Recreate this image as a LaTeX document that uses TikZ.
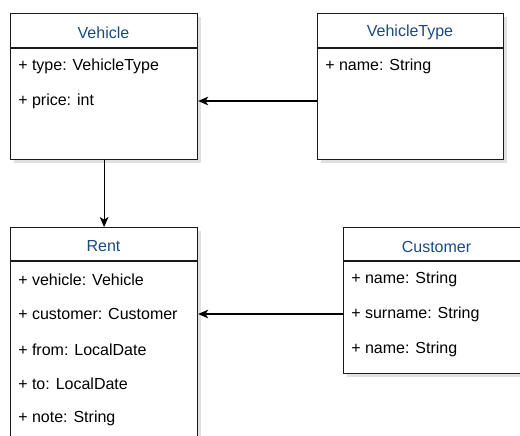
\documentclass[tikz,border=0pt]{standalone}
\usepackage{fontspec}
\setmainfont{Liberation Sans}
\usetikzlibrary{shadows,arrows.meta}
\definecolor{titleblue}{HTML}{184A85}
\definecolor{edge}{HTML}{1A1A1A}
\tikzset{
  umlbox/.style={draw=edge, line width=0.9pt, fill=white, anchor=north west, inner sep=0pt,
    drop shadow={shadow xshift=2.25pt, shadow yshift=-2.25pt, fill=black!12, opacity=1}},
  umltitle/.style={text=titleblue, inner sep=0pt, font=\fontsize{12pt}{14pt}\selectfont},
  attr/.style={anchor=west, inner sep=0pt, font=\fontsize{12pt}{14pt}\selectfont, text=black},
  divider/.style={draw=edge, line width=0.9pt},
  arr/.style={draw=black, line width=0.9pt, -{Stealth[length=7.5pt,width=6.5pt,inset=2pt]}},
}
\begin{document}
\begin{tikzpicture}[x=0.75pt,y=-0.75pt]
\clip (0,0) rectangle (520,435);
\fill[white] (0,0) rectangle (520,435);
% Vehicle
\node[umlbox, minimum width=140.25pt, minimum height=109.5pt] (vehicle) at (10,13) {};
\draw[divider] (10,48) -- (197,48);
\node[umltitle] (vehicletitle) at (103.5,32.5) {Vehicle};
\node[attr] (vtype) at (18,66.5) {+ type: VehicleType};
\node[attr] (vprice) at (18,101) {+ price: int};
% VehicleType
\node[umlbox, minimum width=139.5pt, minimum height=109.5pt] (vt) at (317,13) {};
\draw[divider] (317,48) -- (503,48);
\node[umltitle] (vttitle) at (410,32.5) {VehicleType};
\node[attr] (vtname) at (325,66.5) {+ name: String};
% Rent
\node[umlbox, minimum width=140.25pt, minimum height=182.25pt] (rent) at (10,227) {};
\draw[divider] (10,261) -- (197,261);
\node[umltitle] (renttitle) at (103.5,246.5) {Rent};
\node[attr] (rvehicle) at (18,279.5) {+ vehicle: Vehicle};
\node[attr] (rcustomer) at (18,314) {+ customer: Customer};
\node[attr] (rfrom) at (18,349.5) {+ from: LocalDate};
\node[attr] (rto) at (18,383.5) {+ to: LocalDate};
\node[attr] (rnote) at (18,418.5) {+ note: String};
% Customer
\node[umlbox, minimum width=140.25pt, minimum height=109.5pt] (cust) at (343,227) {};
\draw[divider] (343,261) -- (530,261);
\node[umltitle] (custtitle) at (436.5,246.5) {Customer};
\node[attr] (cname) at (351,279.5) {+ name: String};
\node[attr] (csurname) at (351,314) {+ surname: String};
\node[attr] (cname2) at (351,349.5) {+ name: String};
% connectors
\draw[arr] (vt.west |- vprice) -- (vehicle.east |- vprice);
\draw[arr] (vehicle.south) -- (rent.north);
\draw[arr] (cust.west |- rcustomer) -- (rent.east |- rcustomer);
\end{tikzpicture}
\end{document}
